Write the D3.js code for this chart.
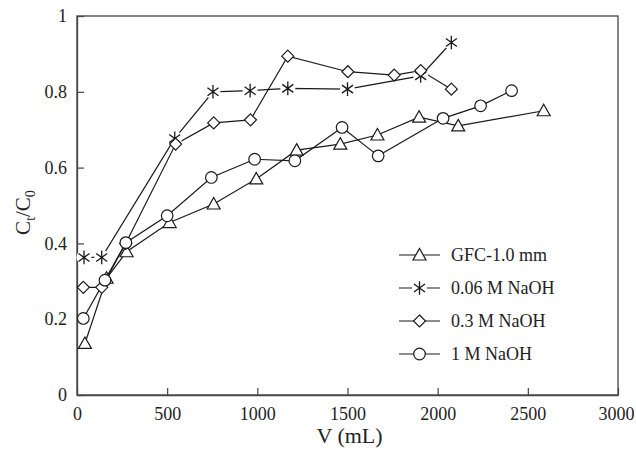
<!DOCTYPE html>
<html>
<head>
<meta charset="utf-8">
<script src="https://cdn.jsdelivr.net/npm/d3@7"></script>
<style>
  body { margin: 0; background: #fff; }
  text { font-family: "Liberation Serif", "Times New Roman", serif; fill: #222; }
</style>
</head>
<body>
<svg id="chart" width="636" height="449"></svg>
<script>
// data
const seriesNames = ["GFC-1.0 mm", "0.06 M NaOH", "0.3 M NaOH", "1 M NaOH"];
const gfcV = [44, 164, 275, 514, 758, 994, 1218, 1460, 1666, 1897, 2114, 2588];
const gfcC = [0.136, 0.308, 0.378, 0.455, 0.504, 0.570, 0.646, 0.662, 0.686, 0.733, 0.710, 0.750];
const naoh006V = [39, 137, 542, 754, 960, 1169, 1500, 1906, 2076];
const naoh006C = [0.363, 0.363, 0.677, 0.800, 0.803, 0.809, 0.807, 0.842, 0.930];
const naoh03V = [35, 137, 270, 547, 758, 962, 1169, 1502, 1759, 1906, 2076];
const naoh03C = [0.284, 0.284, 0.400, 0.662, 0.718, 0.726, 0.894, 0.853, 0.844, 0.856, 0.807];
const naoh1V = [35, 155, 271, 500, 745, 985, 1208, 1470, 1670, 2030, 2238, 2410];
const naoh1C = [0.202, 0.303, 0.402, 0.473, 0.574, 0.622, 0.618, 0.706, 0.631, 0.730, 0.763, 0.803];
const xTicks = [0, 500, 1000, 1500, 2000, 2500, 3000];
const yTicks = [0, 0.2, 0.4, 0.6, 0.8, 1];

const series = [
  {name: seriesNames[0], v: gfcV, c: gfcC, mark: "triangle"},
  {name: seriesNames[1], v: naoh006V, c: naoh006C, mark: "star"},
  {name: seriesNames[2], v: naoh03V, c: naoh03C, mark: "diamond"},
  {name: seriesNames[3], v: naoh1V, c: naoh1C, mark: "circle"}
];

const margin = {top: 16, right: 18, bottom: 54, left: 77};
const width = 636, height = 449;
const svg = d3.select("#chart");

const x = d3.scaleLinear().domain([0, 3000]).range([margin.left, width - margin.right]);
const y = d3.scaleLinear().domain([0, 1]).range([height - margin.bottom, margin.top]);

// frame
svg.append("rect")
  .attr("x", margin.left).attr("y", margin.top)
  .attr("width", x(3000) - margin.left)
  .attr("height", y(0) - margin.top)
  .attr("fill", "none").attr("stroke", "#444").attr("stroke-width", 1.3);

const xAxis = svg.append("g")
  .attr("transform", `translate(0,${y(0)})`)
  .call(d3.axisBottom(x).tickValues(xTicks).tickFormat(d3.format("d")).tickSizeInner(-7).tickSizeOuter(0).tickPadding(12));
const yAxis = svg.append("g")
  .attr("transform", `translate(${margin.left},0)`)
  .call(d3.axisLeft(y).tickValues(yTicks).tickFormat(d => d === 0 || d === 1 ? d : d3.format(".1f")(d)).tickSizeInner(-7).tickSizeOuter(0).tickPadding(10));
[xAxis, yAxis].forEach(a => {
  a.select(".domain").attr("stroke", "#444").attr("stroke-width", 1.3);
  a.selectAll(".tick line").attr("stroke", "#444").attr("stroke-width", 1.2);
  a.selectAll(".tick text").style("font-family", "Liberation Serif").style("font-size", "18px").attr("fill", "#222");
});
xAxis.selectAll(".tick text").filter(d => d === 3000).attr("dx", -2);

// axis titles
svg.append("text")
  .attr("x", (x(0) + x(3000)) / 2 + 2).attr("y", 443)
  .attr("text-anchor", "middle").style("font-size", "22px")
  .text("V (mL)");
const yt = svg.append("text")
  .attr("transform", `translate(30,${(y(0) + y(1)) / 2 + 7}) rotate(-90)`)
  .attr("text-anchor", "middle").style("font-size", "21px");
yt.append("tspan").text("C");
yt.append("tspan").attr("dy", 5).style("font-size", "14px").text("t");
yt.append("tspan").attr("dy", -5).text("/C");
yt.append("tspan").attr("dy", 5).style("font-size", "14px").text("0");

const ink = "#1a1a1a";
function drawMark(g, type) {
  if (type === "triangle") {
    g.append("path").attr("d", "M0,-6.5L6.5,5L-6.5,5Z")
      .attr("fill", "#fff").attr("stroke", ink).attr("stroke-width", 1.2);
  } else if (type === "diamond") {
    g.append("path").attr("d", "M0,-6L6,0L0,6L-6,0Z")
      .attr("fill", "#fff").attr("stroke", ink).attr("stroke-width", 1.2);
  } else if (type === "circle") {
    g.append("circle").attr("r", 5.8)
      .attr("fill", "#fff").attr("stroke", ink).attr("stroke-width", 1.2);
  } else {
    g.append("circle").attr("r", 7.5).attr("fill", "#fff");
    const r = 6.8, a = r * Math.cos(Math.PI / 5), b = r * Math.sin(Math.PI / 5);
    g.append("path")
      .attr("d", `M0,${-r}L0,${r}M${-a},${-b}L${a},${b}M${-a},${b}L${a},${-b}`)
      .attr("stroke", ink).attr("stroke-width", 1.3);
  }
}

const line = d3.line().x(d => x(d[0])).y(d => y(d[1]));
series.forEach(s => {
  const pts = s.v.map((v, i) => [v, s.c[i]]);
  svg.append("path").datum(pts).attr("d", line)
    .attr("fill", "none").attr("stroke", ink).attr("stroke-width", 1.2);
});
series.forEach(s => {
  const pts = s.v.map((v, i) => [v, s.c[i]]);
  pts.forEach(p => {
    const g = svg.append("g").attr("transform", `translate(${x(p[0])},${y(p[1])})`);
    drawMark(g, s.mark);
  });
});

// legend
const legend = svg.append("g").attr("transform", "translate(399,255)");
series.forEach((s, i) => {
  const g = legend.append("g").attr("transform", `translate(0,${i * 33})`);
  g.append("line").attr("x1", 0).attr("x2", 41).attr("stroke", ink).attr("stroke-width", 1.2);
  drawMark(g.append("g").attr("transform", "translate(20.5,0)"), s.mark);
  g.append("text").attr("x", 52).attr("y", 6).style("font-size", "18px").text(s.name);
});
</script>
</body>
</html>
